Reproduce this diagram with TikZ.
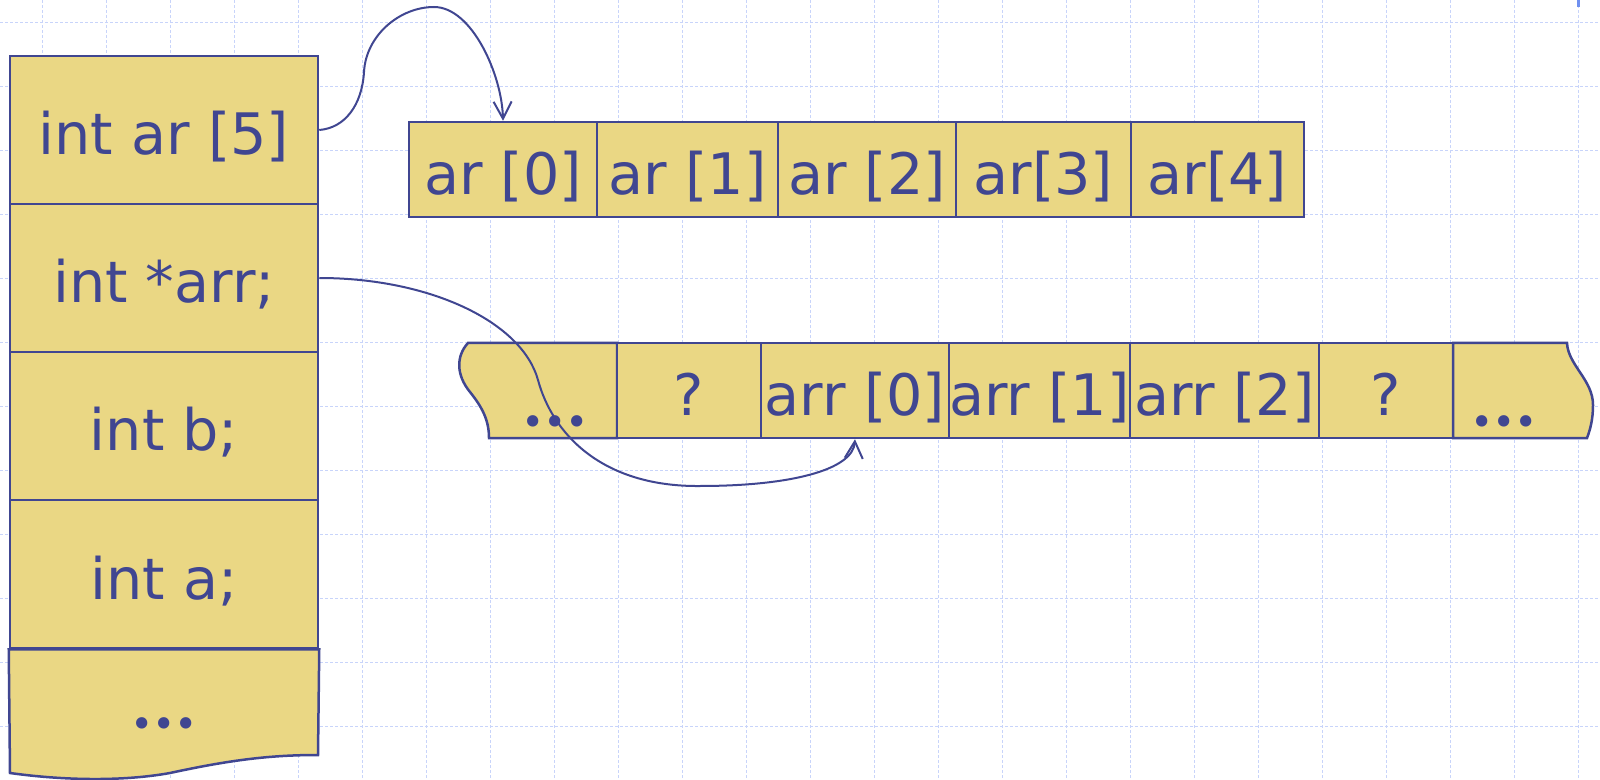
\documentclass[tikz,border=0pt]{standalone}
\usepackage{fontspec}
\setmainfont{DejaVu Sans}
\newfontfamily\dotfont{Poppins}
\usetikzlibrary{arrows.meta}

\definecolor{cellfill}{RGB}{234,215,132}
\definecolor{ink}{RGB}{64,70,145}
\definecolor{gridblue}{RGB}{200,212,250}
\definecolor{tickblue}{RGB}{112,144,240}

\tikzset{
  gridline/.style={draw=gridblue, line width=0.7pt, dash pattern=on 1.5pt off 1pt},
  cell/.style={draw=ink, fill=cellfill, line width=1.25pt, text=ink, inner sep=0pt,
               text height=25pt, text depth=0pt, font=\fontsize{28.6pt}{32pt}\selectfont},
  stackcell/.style={cell, minimum width=154pt, minimum height=74pt},
  arrcell/.style={cell, minimum height=47.5pt},
  endpiece/.style={draw=ink, fill=cellfill, line width=1.25pt},
  dots/.style={text=ink, inner sep=0pt, anchor=base, font=\fontsize{46pt}{48pt}\dotfont},
  link/.style={draw=ink, line width=1pt, -{Straight Barb[length=8.5pt,width=9pt]}}
}
\newcommand{\spreaddots}{.\kern1.5pt.\kern1.5pt.}

\begin{document}
\begin{tikzpicture}[x=0.5pt, y=-0.5pt]
\useasboundingbox (0,0) rectangle (1600,780);

% background grid
\foreach \i in {0,...,24} \draw[gridline] ({42.5+64*\i},0) -- ({42.5+64*\i},780);
\foreach \j in {0,...,11} \draw[gridline] (0,{22.5+64*\j}) -- (1600,{22.5+64*\j});
\fill[tickblue] (1577,0) rectangle (1580,7);

% stack of variables
\node[stackcell] (s1) at (164,130) {int ar [5]};
\node[stackcell] (s2) at (164,278) {int *arr;};
\node[stackcell] (s3) at (164,426) {int b;};
\node[stackcell] (s4) at (164,574) {int a;};
\path[endpiece] (s4.south west) -- (s4.south east) -- (318,755)
  .. controls (270,755) and (230,760) .. (170,773)
  .. controls (120,782) and (60,780) .. (10,773) -- cycle;
\node[dots] (sdots) at (164,728) {\spreaddots};

% array ar
\node[arrcell, minimum width=94pt]   (a0) at (503,169.5)    {ar [0]};
\node[arrcell, minimum width=90.5pt] (a1) at (687.5,169.5)  {ar [1]};
\node[arrcell, minimum width=89pt]   (a2) at (867,169.5)    {ar [2]};
\node[arrcell, minimum width=87.5pt] (a3) at (1043.5,169.5) {ar[3]};
\node[arrcell, minimum width=86.5pt] (a4) at (1217.5,169.5) {ar[4]};

% memory around arr
\path[endpiece] (617,343) -- (468,343)
  .. controls (456,356) and (456,375) .. (470,392)
  .. controls (482,407) and (489,420) .. (489,438) -- (617,438) -- cycle;
\node[dots] (bl) at (555,426) {\spreaddots};
\node[arrcell, minimum width=72pt] (b1) at (689,390.5)    {?};
\node[arrcell, minimum width=94pt] (b2) at (855,390.5)    {arr [0]};
\node[arrcell, minimum width=90.5pt] (b3) at (1039.5,390.5) {arr [1]};
\node[arrcell, minimum width=94.5pt] (b4) at (1224.5,390.5) {arr [2]};
\node[arrcell, minimum width=67pt] (b5) at (1386,390.5)   {?};
\path[endpiece] (1453,343) -- (1567,343)
  .. controls (1568,365) and (1593,380) .. (1593,405)
  .. controls (1593,420) and (1590,430) .. (1587,438) -- (1453,438) -- cycle;
\node[dots] (br) at (1504,426) {\spreaddots};

% pointers
\draw[link] (s1.east) .. controls (345,128) and (362,105) .. (364,72)
  .. controls (366,35) and (400,7) .. (434,7)
  .. controls (472,7) and (502,75) .. (a0.north);
\draw[link] (s2.east) .. controls (430,278) and (522,322) .. (538,380)
  .. controls (552,432) and (600,487) .. (700,486)
  .. controls (790,486) and (853,470) .. (b2.south);
\end{tikzpicture}
\end{document}
